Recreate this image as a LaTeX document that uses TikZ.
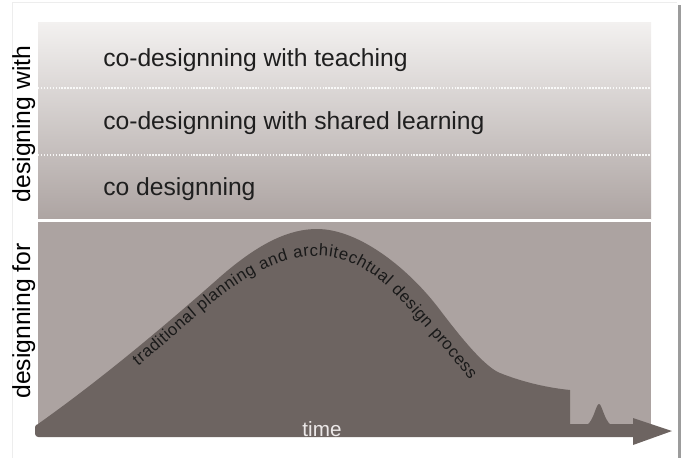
\documentclass[tikz,border=0pt]{standalone}
\usepackage{fontspec}
\setmainfont{Liberation Sans}
\usetikzlibrary{decorations.text}
\definecolor{bandtop}{HTML}{F3F1F0}
\definecolor{bandbot}{HTML}{ADA4A2}
\definecolor{lowband}{HTML}{ACA3A1}
\definecolor{mount}{HTML}{6D6461}
\definecolor{framegray}{HTML}{9C9C9C}
\definecolor{timecol}{HTML}{ECE8E8}
\tikzset{
  bandtext/.style={font=\fontsize{18.5}{22}\selectfont, text=black!88, inner sep=0pt},
  sidelabel/.style={font=\fontsize{18.5}{22}\selectfont, text=black, inner sep=0pt, rotate=90, anchor=base},
  dotline/.style={white, line width=1.1pt, dash pattern=on 1.1pt off 1.1pt, opacity=0.85},
  timetext/.style={font=\fontsize{15.5}{18}\selectfont, text=timecol, inner sep=0pt, anchor=base},
}
\begin{document}
\begin{tikzpicture}[x=0.75pt,y=-0.75pt]
\useasboundingbox (0,0) rectangle (681,458);
% outer frame
\draw[black!7, line width=0.75pt] (12,458) -- (12,2) -- (677,2);
\fill[framegray] (678,5) rectangle (681,458);
% upper band
\shade[top color=bandtop, bottom color=bandbot] (38,22) rectangle (651,219);
\draw[dotline] (38,88) -- (651,88);
\draw[dotline] (38,155) -- (651,155);
% separator and lower band
\fill[white] (38,219) rectangle (651,222);
\fill[lowband] (38,222) rectangle (651,425);
% mountain
\fill[mount] (38,425) -- (38,424)
  .. controls (100,380) and (160,330) .. (220,277)
  .. controls (260,242) and (290,229) .. (317,229)
  .. controls (360,229) and (410,270) .. (440,310)
  .. controls (462,339) and (485,367) .. (500,373)
  .. controls (525,383) and (550,388) .. (570,390)
  -- (570,425) -- cycle;
% small bump
\fill[mount] (587,425) .. controls (594,420) and (596,404) .. (599,404)
  .. controls (602,404) and (604,420) .. (611,425) -- cycle;
% time arrow
\fill[mount, rounded corners=2.5pt] (35,424) rectangle (640,437);
\fill[mount] (633,418) -- (672,431) -- (633,445) -- cycle;
% curved text
\path[decorate, decoration={text along path,
   text={|\fontsize{12.5}{14}\selectfont|traditional planning and architechtual design process},
   text align=fit to path, text color=black!90}]
  (138,366) .. controls (190,325) and (250,256) .. (317,256)
  .. controls (370,256) and (400,300) .. (430,333)
  .. controls (450,355) and (460,368) .. (470,380);
% texts
\node[bandtext, anchor=base west] (teach) at (103,66) {co-designning with teaching};
\node[bandtext, anchor=base west] (shared) at (103,129) {co-designning with shared learning};
\node[bandtext, anchor=base west] (codes) at (103,195) {co designning};
\node[sidelabel] (with) at (30,124) {designing with};
\node[sidelabel] (for) at (30,321) {designning for};
\node[timetext] (time) at (322,436) {time};
\end{tikzpicture}
\end{document}
